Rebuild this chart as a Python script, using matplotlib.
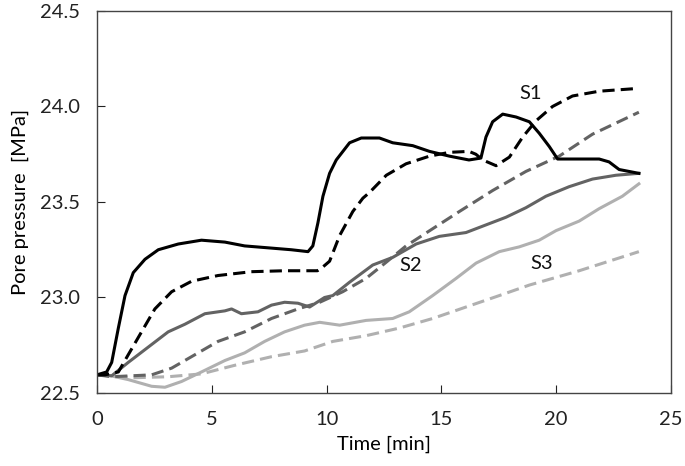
import matplotlib
matplotlib.use('Agg')
import matplotlib.pyplot as plt

# S1 (black)
s1_solid_t = [0, 0.42, 0.64, 0.93, 1.22, 1.58, 2.09, 2.67, 3.54, 4.55, 5.57, 6.43, 7.45, 8.46,
              9.19, 9.4, 9.62, 9.84, 10.13, 10.42, 11.0, 11.51, 12.3, 12.88, 13.75, 14.48, 15.35,
              16.2, 16.72, 16.94, 17.23, 17.67, 18.25, 18.83, 19.26, 19.7, 20.06, 20.7, 21.87,
              22.3, 22.74, 23.6]
s1_solid_p = [22.595, 22.61, 22.66, 22.84, 23.01, 23.13, 23.20, 23.25, 23.28, 23.30, 23.29, 23.27,
              23.26, 23.25, 23.24, 23.27, 23.39, 23.53, 23.65, 23.72, 23.81, 23.835, 23.835, 23.81,
              23.795, 23.765, 23.74, 23.72, 23.73, 23.84, 23.92, 23.96, 23.945, 23.92, 23.86,
              23.79, 23.725, 23.725, 23.725, 23.71, 23.67, 23.65]
s1_dash_t = [0, 0.35, 0.93, 1.36, 1.94, 2.52, 3.25, 4.12, 5.27, 6.72, 8.17, 9.6, 9.84, 10.13,
             10.57, 11.14, 11.58, 11.87, 12.6, 13.46, 14.48, 15.35, 16.2, 16.5, 16.8, 17.38,
             17.96, 18.54, 19.12, 19.84, 20.71, 21.87, 23.6]
s1_dash_p = [22.595, 22.595, 22.61, 22.70, 22.82, 22.94, 23.03, 23.085, 23.115, 23.135, 23.14,
             23.14, 23.16, 23.19, 23.325, 23.45, 23.52, 23.55, 23.64, 23.70, 23.74, 23.76, 23.765,
             23.75, 23.72, 23.69, 23.735, 23.84, 23.925, 24.0, 24.055, 24.08, 24.095]

# S2 (dark grey)
s2_solid_t = [0, 0.64, 1.36, 2.23, 3.1, 3.83, 4.7, 5.57, 5.86, 6.29, 7.01, 7.6, 8.17, 8.75,
              9.26, 9.91, 10.27, 11.0, 12.01, 12.88, 13.9, 14.91, 16.07, 16.94, 17.81, 18.68,
              19.55, 20.56, 21.58, 22.6, 23.6]
s2_solid_p = [22.595, 22.59, 22.66, 22.74, 22.82, 22.86, 22.915, 22.93, 22.94, 22.915, 22.925,
              22.96, 22.975, 22.97, 22.95, 23.0, 23.01, 23.08, 23.17, 23.21, 23.28, 23.32, 23.34,
              23.38, 23.42, 23.47, 23.53, 23.58, 23.62, 23.64, 23.65]
s2_dash_t = [0, 0.64, 2.38, 3.25, 4.26, 5.27, 6.43, 7.6, 8.75, 9.7, 10.7, 11.72, 12.6, 13.46,
             14.62, 15.78, 17.23, 18.68, 20.13, 21.58, 23.6]
s2_dash_p = [22.595, 22.585, 22.595, 22.63, 22.70, 22.77, 22.82, 22.89, 22.94, 22.975, 23.03,
             23.10, 23.185, 23.27, 23.36, 23.45, 23.56, 23.66, 23.74, 23.855, 23.97]

# S3 (light grey)
s3_solid_t = [0, 0.6, 1.36, 2.38, 2.96, 3.68, 4.55, 5.57, 6.43, 7.3, 8.17, 9.04, 9.7, 10.57,
              11.72, 12.88, 13.6, 14.62, 15.64, 16.51, 17.52, 18.39, 19.26, 19.99, 21.0, 21.87,
              22.88, 23.6]
s3_solid_p = [22.595, 22.59, 22.57, 22.535, 22.53, 22.56, 22.61, 22.67, 22.71, 22.77, 22.82,
              22.855, 22.87, 22.855, 22.88, 22.89, 22.925, 23.01, 23.10, 23.18, 23.24, 23.265,
              23.30, 23.35, 23.40, 23.465, 23.53, 23.595]
s3_dash_t = [0, 1.65, 3.1, 4.55, 6.0, 7.6, 9.04, 10.27, 11.72, 13.17, 14.62, 16.07, 17.52,
             18.83, 21.0, 23.6]
s3_dash_p = [22.595, 22.58, 22.585, 22.60, 22.645, 22.69, 22.72, 22.77, 22.80, 22.84, 22.89,
             22.95, 23.01, 23.065, 23.14, 23.24]

labels = ['S1', 'S2', 'S3']
label_t = [18.9, 13.68, 19.38]
label_p = [24.07, 23.17, 23.18]

plt.rcParams['font.family'] = ['Lato', 'DejaVu Sans']

fig = plt.figure(figsize=(6.85, 4.66), dpi=100)
ax = fig.add_axes([0.1416, 0.1567, 0.838, 0.8197])

lw = 2.2
dash = (0, (4, 2))
dark = '#636363'
light = '#b0b0b0'
ax.plot(s3_dash_t, s3_dash_p, color=light, lw=lw, linestyle=dash)
ax.plot(s3_solid_t, s3_solid_p, color=light, lw=lw)
ax.plot(s2_dash_t, s2_dash_p, color=dark, lw=lw, linestyle=dash)
ax.plot(s2_solid_t, s2_solid_p, color=dark, lw=lw)
ax.plot(s1_dash_t, s1_dash_p, color='black', lw=lw, linestyle=dash)
ax.plot(s1_solid_t, s1_solid_p, color='black', lw=lw)

for lab, x, y in zip(labels, label_t, label_p):
    ax.text(x, y, lab, fontsize=14.5, ha='center', va='center', color='#111111')

ax.set_xlim(0, 25)
ax.set_ylim(22.5, 24.5)
ax.set_xticks([0, 5, 10, 15, 20, 25])
ax.set_yticks([22.5, 23.0, 23.5, 24.0, 24.5])
ax.set_yticklabels(['22.5', '23.0', '23.5', '24.0', '24.5'])
ax.tick_params(direction='in', length=6, labelsize=14.5, colors='#222222')
ax.tick_params(axis='y', pad=12)
ax.tick_params(axis='x', pad=13)
for s in ax.spines.values():
    s.set_color('#444444')
    s.set_linewidth(1.0)
ax.set_xlabel('Time [min]', fontsize=14.5)
ax.xaxis.set_label_coords(0.5, -0.112)
ax.xaxis.label.set_verticalalignment('top')
ax.set_ylabel('Pore pressure  [MPa]', fontsize=14.5, labelpad=8)

fig.savefig('out.png', dpi=100)
